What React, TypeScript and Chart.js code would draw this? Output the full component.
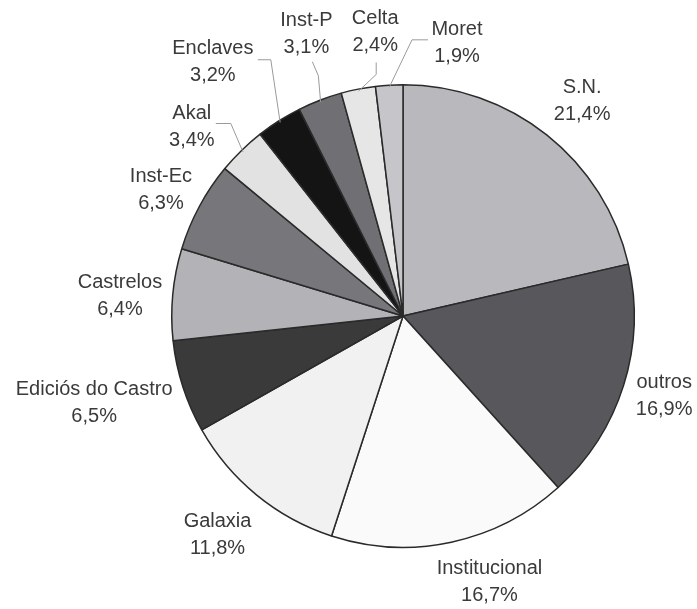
import React, { useEffect, useRef } from "react";
import { Chart, registerables } from "chart.js";

Chart.register(...registerables);

const labels = [
  "S.N.", "outros", "Institucional", "Galaxia", "Ediciós do Castro", "Castrelos",
  "Inst-Ec", "Akal", "Enclaves", "Inst-P", "Celta", "Moret",
];
const values = [21.4, 16.9, 16.7, 11.8, 6.5, 6.4, 6.3, 3.4, 3.2, 3.1, 2.4, 1.9];
const percentText = ["21,4%", "16,9%", "16,7%", "11,8%", "6,5%", "6,4%", "6,3%", "3,4%", "3,2%", "3,1%", "2,4%", "1,9%"];

const sliceColors = [
  "#b9b9bd", "#58585c", "#fafafa", "#f1f1f1", "#3a3a3a", "#b3b3b7",
  "#77777b", "#e2e2e2", "#141414", "#707074", "#e6e6e6", "#c6c6ca",
];

// label placement: [angle (deg, clockwise from top), distance factor of radius]
const labelPlace: [number, number][] = [
  [39.8, 1.21], [107, 1.181], [162, 1.21], [220.3, 1.24], [254.2, 1.388], [274, 1.227],
  [297.5, 1.18], [311.9, 1.227], [323.2, 1.373], [341.1, 1.29], [354.4, 1.232], [11.2, 1.202],
];
// leader lines for small slices: label-side anchor offsets [dx, dy] from label center
const leaders: (null | [number, number][])[] = [
  null, null, null, null, null, null, null,
  [[24, -3], [39, -3]],
  [[45, -2], [58, -2]],
  [[6, 28], [12, 42]],
  [[1, 30], [1, 42]],
  [[-29, -3.5], [-45, -3.5]],
];

const labelPlugin = {
  id: "pieLabels",
  afterDraw(chart: any) {
    const ctx = chart.ctx;
    const meta = chart.getDatasetMeta(0);
    ctx.save();
    ctx.font = '20px "Liberation Sans", Arial, sans-serif';
    ctx.fillStyle = "#3a3a3a";
    ctx.textAlign = "center";
    ctx.textBaseline = "middle";
    meta.data.forEach((arc: any, i: number) => {
      const { x, y, outerRadius, startAngle, endAngle } = arc.getProps(
        ["x", "y", "outerRadius", "startAngle", "endAngle"], true
      );
      const [deg, f] = labelPlace[i];
      const a = (deg * Math.PI) / 180 - Math.PI / 2;
      const lx = x + Math.cos(a) * outerRadius * f;
      const ly = y + Math.sin(a) * outerRadius * f;
      ctx.fillText(labels[i], lx, ly - 13.5);
      ctx.fillText(percentText[i], lx, ly + 13.5);
      const ld = leaders[i];
      if (ld) {
        const mid = (startAngle + endAngle) / 2;
        const ex = x + Math.cos(mid) * (outerRadius - 2);
        const ey = y + Math.sin(mid) * (outerRadius - 2);
        ctx.beginPath();
        ctx.strokeStyle = "#9a9a9a";
        ctx.lineWidth = 1;
        ctx.moveTo(lx + ld[0][0], ly + ld[0][1]);
        ctx.lineTo(lx + ld[1][0], ly + ld[1][1]);
        ctx.lineTo(ex, ey);
        ctx.stroke();
      }
    });
    ctx.restore();
  },
};

export default function App() {
  const ref = useRef<HTMLCanvasElement>(null);
  useEffect(() => {
    if (!ref.current) return;
    const chart = new Chart(ref.current, {
      type: "pie",
      data: {
        labels,
        datasets: [
          {
            data: values,
            backgroundColor: sliceColors,
            borderColor: "#2a2a2a",
            borderWidth: 1.5,
          },
        ],
      },
      options: {
        responsive: false,
        animation: false,
        layout: { padding: { top: 84, bottom: 61, left: 171, right: 62 } },
        plugins: { legend: { display: false }, tooltip: { enabled: false } },
      },
      plugins: [labelPlugin],
    });
    return () => chart.destroy();
  }, []);
  return (
    <div style={{ position: "fixed", left: 0, top: 0, width: 697, height: 609, background: "#fff" }}>
      <canvas ref={ref} width={697} height={609} style={{ width: 697, height: 609 }} />
    </div>
  );
}
